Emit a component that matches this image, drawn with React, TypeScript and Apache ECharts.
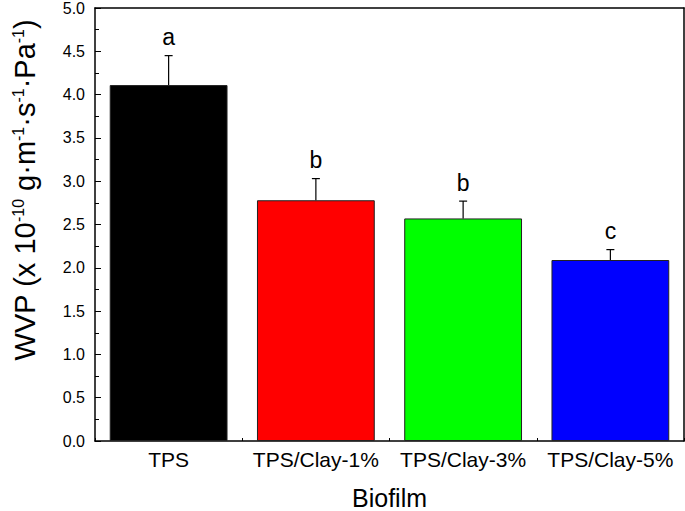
import React, { useEffect, useRef } from "react";
import * as echarts from "echarts";

const categories = ["TPS", "TPS/Clay-1%", "TPS/Clay-3%", "TPS/Clay-5%"];
const means = [4.11, 2.78, 2.57, 2.09];
const errors = [0.34, 0.25, 0.2, 0.12];
const letters = ["a", "b", "b", "c"];
const colors = ["#000000", "#ff0000", "#00ff00", "#0000ff"];
const yTicks = ["0.0", "0.5", "1.0", "1.5", "2.0", "2.5", "3.0", "3.5", "4.0", "4.5", "5.0"];

const FONT = "Liberation Sans, Arial, sans-serif";

export default function App() {
  const ref = useRef<HTMLDivElement>(null);
  useEffect(() => {
    document.body.style.margin = "0";
    const chart = echarts.init(ref.current!, null, { renderer: "svg" });
    chart.setOption({
      animation: false,
      backgroundColor: "#ffffff",
      grid: { left: 95, right: 1, top: 8, bottom: 70, outerBoundsMode: "none", containLabel: false },
      xAxis: [
        {
          type: "category",
          data: categories,
          boundaryGap: true,
          axisLine: { lineStyle: { color: "#000", width: 1.5 } },
          axisTick: { show: true, inside: true, length: 3, lineStyle: { color: "#000" } },
          axisLabel: { color: "#000", fontSize: 21, fontFamily: FONT, margin: 8, interval: 0 },
          name: "Biofilm",
          nameLocation: "middle",
          nameGap: 44,
          nameTextStyle: { color: "#000", fontSize: 25, lineHeight: 25, fontFamily: FONT },
        },
        {
          type: "category",
          data: categories,
          position: "bottom",
          boundaryGap: true,
          axisLine: { show: false },
          axisTick: { show: true, inside: true, alignWithLabel: true, length: 6, lineStyle: { color: "#000" } },
          axisLabel: { show: false },
        },
        {
          type: "category",
          data: categories,
          position: "top",
          axisLine: { show: true, lineStyle: { color: "#000", width: 1.5 } },
          axisTick: { show: false },
          axisLabel: { show: false },
        },
      ],
      yAxis: [
        {
          type: "value",
          min: 0,
          max: 5,
          interval: 0.5,
          axisLine: { show: true, lineStyle: { color: "#000", width: 1.5 } },
          axisTick: { show: true, inside: true, length: 6, lineStyle: { color: "#000" } },
          minorTick: { show: true, splitNumber: 2, length: 4, lineStyle: { color: "#000" } },
          splitLine: { show: false },
          axisLabel: {
            color: "#000",
            fontSize: 16,
            fontFamily: FONT,
            margin: 10,
            formatter: (v: number) => yTicks[Math.round(v / 0.5)] ?? "",
          },
        },
        {
          type: "value",
          min: 0,
          max: 5,
          position: "right",
          axisLine: { show: true, lineStyle: { color: "#000", width: 1.5 } },
          axisTick: { show: false },
          axisLabel: { show: false },
          splitLine: { show: false },
        },
      ],
      graphic: [
        {
          type: "text",
          x: 25,
          y: 190,
          rotation: Math.PI / 2,
          style: {
            text: "WVP (x 10{s|-10} g·m{s|-1}·s{s|-1}·Pa{s|-1})",
            font: `29px ${FONT}`,
            fill: "#000",
            align: "center",
            verticalAlign: "middle",
            rich: {
              s: { fontSize: 16, fontFamily: FONT, verticalAlign: "top", padding: [0, 0, 14, 0], fill: "#000" },
            },
          },
        },
      ],
      series: [
        {
          type: "bar",
          data: means.map((v, i) => ({
            value: v,
            itemStyle: { color: colors[i], borderColor: "#222", borderWidth: 1 },
          })),
          barWidth: "80%",
        },
        {
          type: "custom",
          data: means.map((v, i) => [i, v, errors[i]]),
          z: 5,
          renderItem: (params: any, api: any) => {
            const i = api.value(0);
            const base = api.coord([i, api.value(1)]);
            const top = api.coord([i, api.value(1) + api.value(2)]);
            const cap = 4;
            return {
              type: "group",
              children: [
                {
                  type: "line",
                  shape: { x1: base[0], y1: base[1], x2: top[0], y2: top[1] },
                  style: { stroke: "#000", lineWidth: 1.2 },
                },
                {
                  type: "line",
                  shape: { x1: top[0] - cap, y1: top[1], x2: top[0] + cap, y2: top[1] },
                  style: { stroke: "#000", lineWidth: 1.2 },
                },
                {
                  type: "text",
                  x: top[0],
                  y: top[1] - 7,
                  style: {
                    text: letters[params.dataIndex],
                    font: `23px ${FONT}`,
                    fill: "#000",
                    align: "center",
                    verticalAlign: "bottom",
                  },
                },
              ],
            };
          },
        },
      ],
    });
    return () => chart.dispose();
  }, []);
  return <div ref={ref} style={{ width: 685, height: 511 }} />;
}
